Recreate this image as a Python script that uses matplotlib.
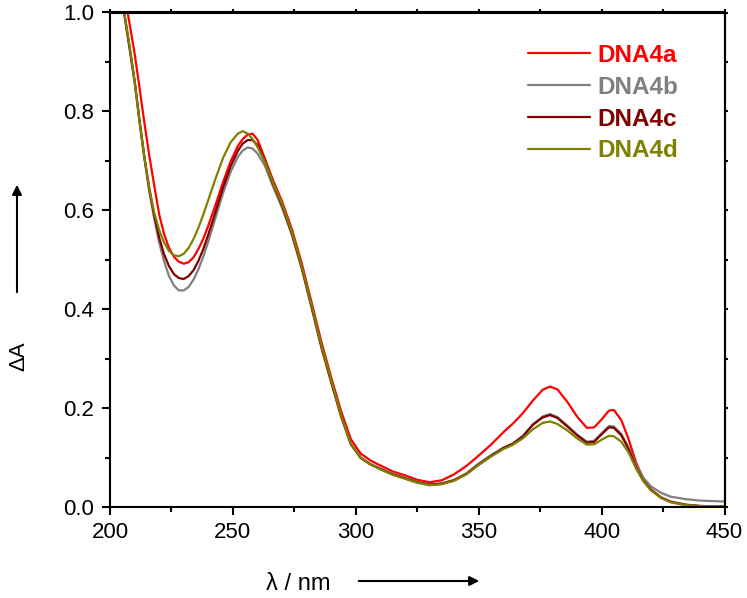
import matplotlib
matplotlib.use("Agg")
import matplotlib.pyplot as plt
from matplotlib.ticker import MultipleLocator, FormatStrFormatter

plt.rcParams['font.family'] = ['Liberation Sans', 'DejaVu Sans']

# Wavelength grid (nm)
wavelength = [204, 206, 208, 210, 212, 214, 216, 218, 220, 222, 224, 226, 228, 230,
              232, 234, 236, 238, 240, 243, 246, 249, 252, 254, 256, 258, 260, 263,
              266, 270, 274, 278, 282, 286, 290, 294, 298, 302, 306, 310, 315, 320,
              325, 330, 335, 340, 345, 350, 355, 360, 364, 368, 372, 376, 379, 382,
              386, 390, 394, 397, 400, 403, 405, 408, 411, 414, 417, 420, 424, 428,
              434, 440, 450]

dna4a = [1.10, 1.035, 0.976, 0.918, 0.848, 0.777, 0.71, 0.65, 0.592, 0.552, 0.524, 0.506, 0.496, 0.492,
         0.495, 0.505, 0.522, 0.543, 0.569, 0.612, 0.657, 0.698, 0.730, 0.744, 0.753, 0.755, 0.743, 0.705,
         0.665, 0.618, 0.562, 0.493, 0.414, 0.334, 0.262, 0.194, 0.137, 0.108, 0.094, 0.084, 0.072, 0.064,
         0.055, 0.050, 0.054, 0.066, 0.083, 0.104, 0.126, 0.151, 0.169, 0.19, 0.215, 0.237, 0.2435, 0.238,
         0.213, 0.183, 0.16, 0.161, 0.177, 0.195, 0.196, 0.176, 0.137, 0.09, 0.057, 0.036, 0.019, 0.01,
         0.004, 0.002, 0.001]

dna4b = [1.06, 0.99, 0.925, 0.86, 0.78, 0.705, 0.638, 0.583, 0.535, 0.497, 0.467, 0.448, 0.438, 0.438,
         0.445, 0.46, 0.481, 0.507, 0.537, 0.586, 0.635, 0.677, 0.708, 0.721, 0.727, 0.725, 0.715, 0.69,
         0.652, 0.605, 0.55, 0.482, 0.403, 0.322, 0.252, 0.183, 0.127, 0.1, 0.087, 0.078, 0.067, 0.059,
         0.051, 0.046, 0.048, 0.055, 0.068, 0.088, 0.105, 0.12, 0.129, 0.144, 0.167, 0.183, 0.188, 0.182,
         0.165, 0.147, 0.132, 0.134, 0.149, 0.164, 0.163, 0.148, 0.12, 0.085, 0.059, 0.042, 0.029, 0.021,
         0.016, 0.013, 0.011]

dna4c = [1.06, 0.992, 0.928, 0.862, 0.782, 0.707, 0.642, 0.59, 0.545, 0.511, 0.487, 0.471, 0.463, 0.461,
         0.467, 0.479, 0.498, 0.522, 0.551, 0.598, 0.646, 0.688, 0.72, 0.735, 0.742, 0.742, 0.732, 0.70,
         0.658, 0.61, 0.553, 0.484, 0.405, 0.324, 0.253, 0.184, 0.127, 0.099, 0.086, 0.077, 0.066, 0.058,
         0.05, 0.045, 0.047, 0.054, 0.067, 0.086, 0.103, 0.119, 0.128, 0.143, 0.166, 0.181, 0.186, 0.18,
         0.163, 0.145, 0.13, 0.132, 0.147, 0.161, 0.16, 0.145, 0.117, 0.08, 0.053, 0.035, 0.02, 0.011,
         0.005, 0.002, 0.001]

dna4d = [1.06, 0.994, 0.932, 0.862, 0.78, 0.707, 0.645, 0.595, 0.56, 0.535, 0.518, 0.509, 0.507, 0.512,
         0.524, 0.542, 0.565, 0.592, 0.621, 0.665, 0.706, 0.737, 0.755, 0.76, 0.755, 0.744, 0.728, 0.698,
         0.66, 0.613, 0.556, 0.487, 0.408, 0.327, 0.256, 0.186, 0.128, 0.1, 0.086, 0.076, 0.065, 0.057,
         0.049, 0.044, 0.046, 0.053, 0.066, 0.085, 0.102, 0.117, 0.126, 0.139, 0.157, 0.17, 0.173, 0.168,
         0.155, 0.139, 0.126, 0.127, 0.136, 0.144, 0.143, 0.132, 0.11, 0.078, 0.052, 0.034, 0.019, 0.01,
         0.004, 0.002, 0.001]

labels = ['DNA4a', 'DNA4b', 'DNA4c', 'DNA4d']
colors = ['#FF0000', '#808080', '#800000', '#808000']
series = [dna4a, dna4b, dna4c, dna4d]

W, H = 747, 598
fig = plt.figure(figsize=(W / 100, H / 100), dpi=100)
ax = fig.add_axes([110 / W, 1 - 507 / H, (724.5 - 110) / W, (507 - 12.5) / H])

for y, c, lab in zip(series, colors, labels):
    ax.plot(wavelength, y, color=c, lw=1.6, label=lab,
            solid_joinstyle='round', solid_capstyle='round')

ax.set_xlim(200, 450)
ax.set_ylim(0.0, 1.0)
ax.xaxis.set_major_locator(MultipleLocator(50))
ax.xaxis.set_minor_locator(MultipleLocator(25))
ax.yaxis.set_major_locator(MultipleLocator(0.2))
ax.yaxis.set_minor_locator(MultipleLocator(0.1))
ax.yaxis.set_major_formatter(FormatStrFormatter('%.1f'))
ax.tick_params(which='major', direction='out', length=5.5, width=1.5, labelsize=16)
ax.tick_params(axis='x', which='major', pad=5)
ax.tick_params(axis='y', which='major', pad=6)
ax.tick_params(which='minor', direction='out', length=3.5, width=1.5)
for s in ax.spines.values():
    s.set_linewidth(1.5)

# unlabeled ticks on the top and right frame
top = ax.secondary_xaxis('top')
top.xaxis.set_major_locator(MultipleLocator(25))
top.tick_params(direction='out', length=2.5, width=1.5, labeltop=False)
top.spines['top'].set_linewidth(1.5)
right = ax.secondary_yaxis('right')
right.yaxis.set_major_locator(MultipleLocator(0.1))
right.tick_params(direction='out', length=2.5, width=1.5, labelright=False)
right.spines['right'].set_linewidth(1.5)

leg = ax.legend(loc='upper left', bbox_to_anchor=((528 - 110) / 614.5, (507 - 44) / 494.5),
                frameon=False, prop={'weight': 'bold', 'size': 17.5}, handlelength=2.55,
                handletextpad=0.3, labelspacing=0.36, labelcolor='linecolor',
                borderaxespad=0.0, borderpad=0.0)

# axis titles with direction arrows
fig.text(19, H - 356, '\u0394A', transform=None, rotation=90, fontsize=16,
         ha='center', va='center')
fig.text(298, H - 584, '\u03bb / nm', transform=None, fontsize=17,
         ha='center', va='center')
ax.annotate('', xy=(482, H - 581), xytext=(356, H - 581), xycoords='figure pixels',
            textcoords='figure pixels',
            arrowprops=dict(arrowstyle='-|>', color='k', lw=1.5, mutation_scale=14))
ax.annotate('', xy=(17, H - 182), xytext=(17, H - 295), xycoords='figure pixels',
            textcoords='figure pixels',
            arrowprops=dict(arrowstyle='-|>', color='k', lw=1.5, mutation_scale=14))

fig.savefig('out.png', dpi=100)
